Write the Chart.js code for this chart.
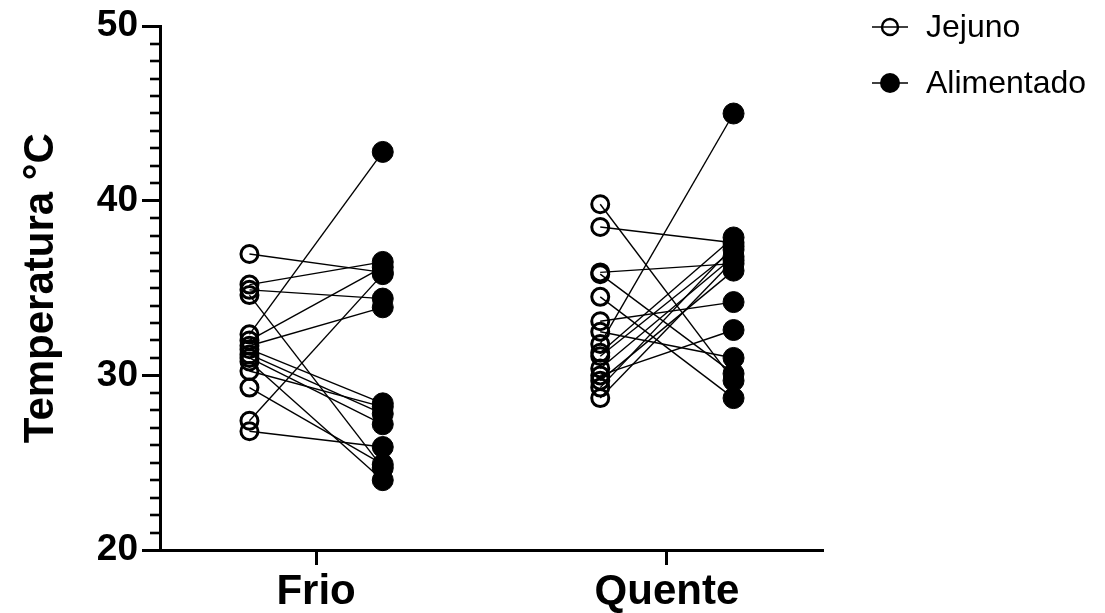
<!DOCTYPE html>
<html>
<head>
<meta charset="utf-8">
<script src="https://cdn.jsdelivr.net/npm/chart.js@4/dist/chart.umd.min.js"></script>
<style>
  html, body { margin: 0; padding: 0; background: #fff; }
  #wrap { width: 1105px; height: 613px; position: relative; }
</style>
</head>
<body>
<div id="wrap"><canvas id="chart"></canvas></div>
<script>
// Paired temperatures (°C): each Jejuno value is joined to the Alimentado value at the same index.
const categories = ['Frio', 'Quente'];
const seriesNames = ['Jejuno', 'Alimentado'];

const jejunoFrio       = [36.95, 35.2, 34.9, 34.6, 32.35, 32.0, 31.7, 31.5, 31.2, 31.0, 30.8, 30.25, 29.3, 27.4, 26.8];
const alimentadoFrio   = [35.9, 36.5, 34.4, 24.7, 42.8, 36.2, 33.9, 28.4, 27.8, 27.2, 24.0, 28.2, 24.9, 35.8, 25.9];

const jejunoQuente     = [39.8, 38.5, 35.9, 35.8, 34.5, 33.1, 32.5, 31.8, 31.3, 31.1, 30.4, 30.0, 29.7, 29.3, 28.7];
const alimentadoQuente = [29.7, 37.6, 36.4, 30.1, 28.7, 34.2, 31.0, 45.0, 37.9, 37.2, 36.8, 32.6, 36.0, 37.4, 36.6];

const yTickValues = [20, 30, 40, 50];

const FONT = '"Liberation Sans", Arial, Helvetica, sans-serif';
const SPREAD = 0.19;   // half distance between the two columns of a group

const groups = [
  { jejuno: jejunoFrio,   alimentado: alimentadoFrio },
  { jejuno: jejunoQuente, alimentado: alimentadoQuente }
];

const openPts = [];
const filledPts = [];
const pairLines = [];
groups.forEach((g, gi) => {
  const c = gi + 1;
  g.jejuno.forEach((v, i) => {
    const a = g.alimentado[i];
    openPts.push({ x: c - SPREAD, y: v });
    filledPts.push({ x: c + SPREAD, y: a });
    pairLines.push({
      label: 'pair',
      data: [{ x: c - SPREAD, y: v }, { x: c + SPREAD, y: a }],
      showLine: true,
      borderColor: '#000',
      borderWidth: 1.4,
      pointRadius: 0,
      order: 5
    });
  });
});

// Minor ticks every 1 °C on the y axis
const minorTicks = {
  id: 'minorTicks',
  afterDraw(chart) {
    const y = chart.scales.y;
    const ctx = chart.ctx;
    const x0 = chart.chartArea.left;
    ctx.save();
    ctx.strokeStyle = '#000';
    ctx.lineWidth = 2.6;
    for (let v = y.min + 1; v < y.max; v++) {
      if (yTickValues.includes(v)) continue;
      const py = Math.round(y.getPixelForValue(v));
      ctx.beginPath();
      ctx.moveTo(x0 - 10, py);
      ctx.lineTo(x0, py);
      ctx.stroke();
    }
    ctx.restore();
  }
};

// Legend: marker with a short line through it, then the series name
const sideLegend = {
  id: 'sideLegend',
  afterDraw(chart) {
    const ctx = chart.ctx;
    const items = [
      { name: seriesNames[0], filled: false, y: 27 },
      { name: seriesNames[1], filled: true,  y: 83 }
    ];
    ctx.save();
    items.forEach(it => {
      const cx = 890;
      ctx.strokeStyle = '#000';
      ctx.lineWidth = 1.6;
      ctx.beginPath();
      ctx.moveTo(872, it.y);
      ctx.lineTo(908, it.y);
      ctx.stroke();
      ctx.beginPath();
      if (it.filled) {
        ctx.arc(cx, it.y, 10, 0, Math.PI * 2);
        ctx.fillStyle = '#000';
        ctx.fill();
      } else {
        ctx.arc(cx, it.y, 8, 0, Math.PI * 2);
        ctx.lineWidth = 2.4;
        ctx.stroke();
      }
      ctx.fillStyle = '#000';
      ctx.font = '32px ' + FONT;
      ctx.textBaseline = 'middle';
      ctx.textAlign = 'left';
      ctx.fillText(it.name, 926, it.y + 1);
    });
    ctx.restore();
  }
};

new Chart(document.getElementById('chart'), {
  type: 'scatter',
  data: {
    datasets: [
      {
        label: seriesNames[0],
        data: openPts,
        pointRadius: 8.5,
        pointBorderWidth: 3,
        pointBorderColor: '#000',
        pointBackgroundColor: 'rgba(0,0,0,0)',
        order: 0
      },
      {
        label: seriesNames[1],
        data: filledPts,
        pointRadius: 10.5,
        pointBorderWidth: 1,
        pointBorderColor: '#000',
        pointBackgroundColor: '#000',
        order: 1
      },
      ...pairLines
    ]
  },
  options: {
    responsive: true,
    maintainAspectRatio: false,
    animation: false,
    events: [],
    layout: { padding: { left: 6, right: 282, top: 24, bottom: 0 } },
    plugins: {
      legend: { display: false },
      tooltip: { enabled: false }
    },
    scales: {
      x: {
        type: 'linear',
        position: 'bottom',
        min: 0.555,
        max: 2.445,
        afterBuildTicks(scale) {
          scale.ticks = categories.map((c, i) => ({ value: i + 1 }));
        },
        afterFit(scale) { scale.height = 63; },
        ticks: {
          callback: (v) => categories[Math.round(v) - 1],
          color: '#000',
          font: { family: FONT, size: 42, weight: 'bold' },
          padding: 2,
          maxRotation: 0,
          autoSkip: false
        },
        border: { display: true, color: '#000', width: 3 },
        grid: { drawOnChartArea: false, drawTicks: true, tickLength: 15, tickWidth: 3, tickColor: '#000', color: '#000' }
      },
      y: {
        min: 20,
        max: 50,
        afterBuildTicks(scale) {
          scale.ticks = yTickValues.map(v => ({ value: v }));
        },
        afterFit(scale) { scale.width = 154; },
        ticks: {
          color: '#000',
          font: { family: FONT, size: 37, weight: 'bold' },
          padding: 4
        },
        title: {
          display: true,
          text: 'Temperatura °C',
          color: '#000',
          font: { family: FONT, size: 42, weight: 'bold' },
          padding: { top: 10, bottom: 0 }
        },
        border: { display: true, color: '#000', width: 3 },
        grid: { drawOnChartArea: false, drawTicks: true, tickLength: 18, tickWidth: 3, tickColor: '#000', color: '#000' }
      }
    }
  },
  plugins: [minorTicks, sideLegend]
});
</script>
</body>
</html>
